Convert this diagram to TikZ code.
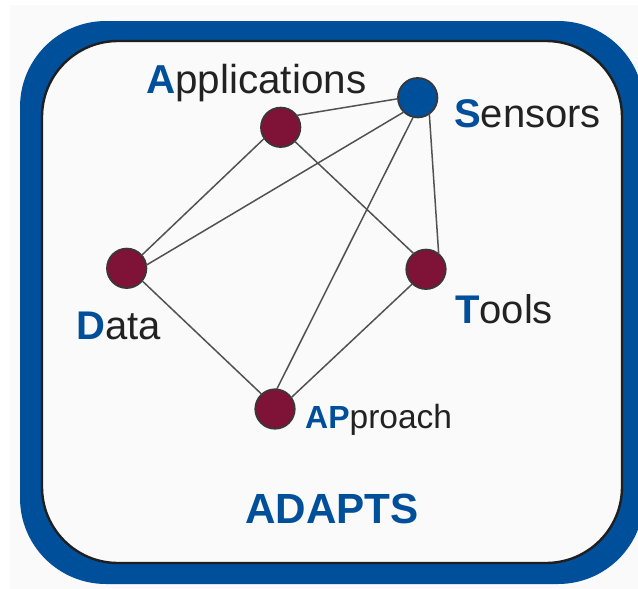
\documentclass[tikz,border=0pt]{standalone}
\usepackage{fontspec}
\setmainfont{Liberation Sans}
\definecolor{adblue}{HTML}{004F9B}
\definecolor{admaroon}{HTML}{7E1237}
\definecolor{adbg}{HTML}{FAFAFA}
\definecolor{adtext}{HTML}{222222}
\tikzset{
  dot/.style={circle,draw=black!78,line width=1.7pt,fill=admaroon,minimum size=39.5pt,inner sep=0pt,outer sep=0pt},
  link/.style={draw=black!68,line width=1.5pt},
  lab/.style={anchor=base west,inner sep=0pt,text=adtext},
}
\newcommand{\adb}[1]{\textcolor{adblue}{\bfseries #1}}
\begin{document}
\begin{tikzpicture}[x=1pt,y=-1pt]
\useasboundingbox (0,0) rectangle (638,589);
\fill[white] (0,0) rectangle (638,589);
\fill[adbg] (10,5) rectangle (638,589);
\begin{scope}
\clip (0,0) rectangle (638,589);
\fill[adblue,rounded corners=86pt] (20,21) rectangle (644,584);
\draw[draw=black!88,fill=adbg,line width=2.4pt,rounded corners=76pt] (42,41) rectangle (622,563);
\end{scope}
\node[dot] (A) at (280.7,127.3) {};
\node[dot,fill=adblue] (S) at (417.7,97.7) {};
\node[dot] (D) at (126.7,268.3) {};
\node[dot] (T) at (426,269.3) {};
\node[dot] (P) at (275,409) {};
\draw[link] (A.37.6) -- (S.183.6);
\draw[link] (A.214.6) -- (D.41.8);
\draw[link] (A.-45) -- (T.128.4);
\draw[link] (S.226) -- (D.9);
\draw[link] (S.257) -- (P.85);
\draw[link] (S.-54.6) -- (T.50);
\draw[link] (D.-39) -- (P.132);
\draw[link] (T.227.5) -- (P.35);
\node[lab,font=\fontsize{40.4}{41}\selectfont] (la) at (146,93) {\adb{A}pplications};
\node[lab,font=\fontsize{40}{41}\selectfont] (ls) at (454,127) {\adb{S}ensors};
\node[lab,font=\fontsize{40}{41}\selectfont] (ld) at (76,339) {\adb{D}ata};
\node[lab,font=\fontsize{40}{41}\selectfont] (lt) at (455,323) {\adb{T}ools};
\node[lab,font=\fontsize{33.5}{34}\selectfont] (lp) at (305,428) {{\fontsize{32}{34}\selectfont\adb{AP}}proach};
\node[lab,font=\fontsize{42.2}{43}\selectfont\bfseries,text=adblue] (lx) at (245,523) {ADAPTS};
\end{tikzpicture}
\end{document}
